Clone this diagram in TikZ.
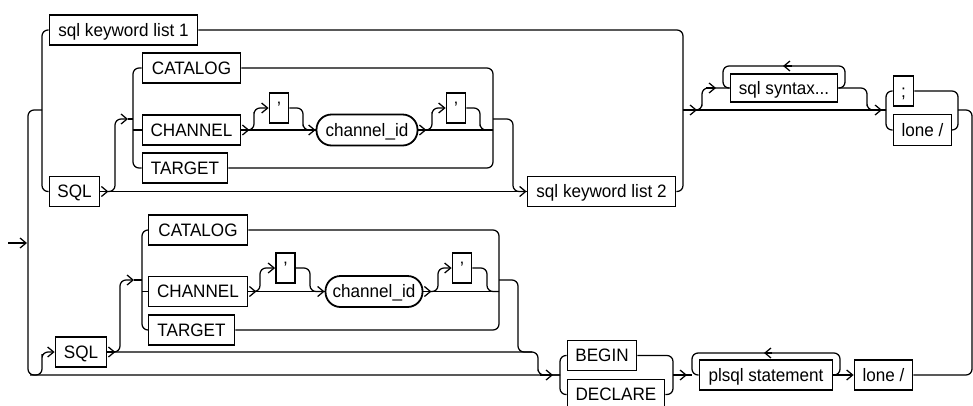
\documentclass[tikz,border=0pt]{standalone}
\usepackage{fontspec}
\setmainfont{Liberation Sans}[FakeStretch=0.95]
\usetikzlibrary{arrows.meta}
\begin{document}
\begin{tikzpicture}[x=1pt,y=-1pt,
  box/.style={draw, line width=1.8pt, fill=white, inner xsep=0pt, inner ysep=0pt,
    minimum height=30pt, text height=12.9pt, text depth=0pt,
    font=\fontsize{18}{20}\selectfont},
  oval/.style={box, rounded corners=15pt},
  rail/.style={line width=1.25pt, rounded corners=6pt},
  arr/.style={line width=1.25pt, -{Straight Barb[length=6pt,width=10pt]}},
]
\useasboundingbox (0,0) rectangle (973,405);

% ---------- upper nodes ----------
\node[box, minimum width=148pt] (kwa) at (123.5,30) {sql keyword list 1};
\node[box, minimum width=98pt] (cata) at (191.5,68) {CATALOG};
\node[box, minimum width=98pt] (chna) at (191.5,130) {CHANNEL};
\node[box, minimum width=85pt] (tgta) at (185,168) {TARGET};
\node[box, minimum width=50pt] (sqla) at (74.5,191.5) {SQL};
\node[box, minimum width=19pt] (qa1) at (279,108) {’};
\node[oval, minimum width=101pt, minimum height=31pt] (cida) at (367,130) {channel\_id};
\node[box, minimum width=19pt] (qa2) at (456,108) {’};
\node[box, minimum width=148pt] (kwb) at (601.5,191.5) {sql keyword list 2};
\node[box, minimum width=107pt, minimum height=28pt] (syn) at (784,88) {sql syntax...};
\node[box, minimum width=20pt] (semi) at (903.5,91) {;};
\node[box, minimum width=58pt, minimum height=31pt] (lonea) at (922.5,130) {lone /};

% ---------- lower nodes ----------
\node[box, minimum width=99pt] (catb) at (198,230) {CATALOG};
\node[box, minimum width=99pt] (chnb) at (198,291.5) {CHANNEL};
\node[box, minimum width=86pt] (tgtb) at (191.5,330) {TARGET};
\node[box, minimum width=51pt] (sqlb) at (81,352) {SQL};
\node[box, minimum width=19pt] (qb1) at (285.5,268) {’};
\node[oval, minimum width=97pt, minimum height=31pt] (cidb) at (374,291.5) {channel\_id};
\node[box, minimum width=19pt] (qb2) at (462,268) {’};
\node[box, minimum width=69pt] (begin) at (602,355.5) {BEGIN};
\node[box, minimum width=97pt] (decl) at (616,394.5) {DECLARE};
\node[box, minimum width=133pt] (plsql) at (766,375) {plsql statement};
\node[box, minimum width=58pt] (loneb) at (883.5,375) {lone /};

% ---------- entry and outer rail ----------
\coordinate (start) at (8,243);
\draw[arr] (start) -- (27,243);
\draw[rail] (42,110) -- (28,110) -- (28,375) -- (560,375);

% ---------- upper section ----------
\draw[rail] (kwa.west) -| (42,110) |- (sqla.west);
\draw[rail] (sqla.east) -- (kwb.west);
\draw[arr] (sqla.east) -- ++(8,0);
\draw[rail, arr] (108,191.5) -| (115,150) |- (128,119);
\draw[rail] (128,119) -- (133,119);

\draw[rail] (cata.west) -| (133,130) |- (tgta.west);
\draw[rail] (133,130) -- (chna.west);
\draw[rail] (chna.east) -- (cida.west);
\draw[arr] (chna.east) -- ++(8,0);
\draw[rail, arr] (246,130) -| (254,118) |- (qa1.west);
\draw[rail, arr] (qa1.east) -| (303,120) |- (cida.west);
\draw[rail] (cida.east) -- (493,130);
\draw[arr] (cida.east) -- ++(8,0);
\draw[rail, arr] (424,130) -| (432,118) |- (qa2.west);
\draw[rail] (qa2.east) -| (480,120) |- (493,130);
\draw[rail] (cata.east) -| (493,119) |- (tgta.east);
\draw[rail, arr] (493,119) -| (513,150) |- (kwb.west);

\draw[rail] (kwa.east) -| (683,110) |- (kwb.east);
\draw[rail] (683,110) -- (886,110);
\draw[arr] (683,110) -- (697,110);
\draw[rail] (692,110) -| (702,100) |- (syn.west);
\draw[arr] (706,88) -- (716,88);
\draw[rail] (syn.east) -- (845,88) -- (845,66) -- (723,66) -- (723,88) -- (syn.west);
\draw[arr] (792,66) -- (783,66);
\draw[rail] (syn.east) -| (867,100) |- (886,110);
\draw[arr] (870,110) -- (882,110);

\draw[rail] (semi.west) -| (886,110) |- (lonea.west);
\draw[rail] (semi.east) -| (958,110) |- (lonea.east);
\draw[rail] (958,110) -| (972,300) |- (loneb.east);

% ---------- lower section ----------
\draw[rail, arr] (30,375) -| (42,360) |- (sqlb.west);
\draw[rail] (sqlb.east) -| (538,365) |- (560,375);
\draw[arr] (sqlb.east) -- ++(8,0);
\draw[rail, arr] (114,352) -| (120,320) |- (134,280);
\draw[rail] (134,280) -- (142,280);

\draw[rail] (catb.west) -| (142,291.5) |- (tgtb.west);
\draw[rail] (142,291.5) -- (chnb.west);
\draw[rail] (chnb.east) -- (cidb.west);
\draw[arr] (chnb.east) -- ++(8,0);
\draw[rail, arr] (252,291.5) -| (260,280) |- (qb1.west);
\draw[rail, arr] (qb1.east) -| (310,280) |- (cidb.west);
\draw[rail] (cidb.east) -- (499,291.5);
\draw[arr] (cidb.east) -- ++(8,0);
\draw[rail, arr] (430,291.5) -| (438,280) |- (qb2.west);
\draw[rail] (qb2.east) -| (487,280) |- (499,291.5);
\draw[rail] (catb.east) -| (499,280) |- (tgtb.east);
\draw[rail] (499,280) -| (518,320) |- (532,352);
\draw[arr] (540,375) -- (553,375);

\draw[rail] (begin.west) -| (560,375) |- (decl.west);
\draw[rail] (begin.east) -| (673,375) |- (decl.east);
\draw[rail] (673,375) -- (692,375);
\draw[arr] (673,375) -- (687,375);
\draw[rail] (plsql.east) -- (840,375) -- (840,353) -- (692,353) -- (692,375) -- (plsql.west);
\draw[arr] (772,353) -- (764,353);
\draw[rail, arr] (plsql.east) -- (loneb.west);
\end{tikzpicture}
\end{document}
